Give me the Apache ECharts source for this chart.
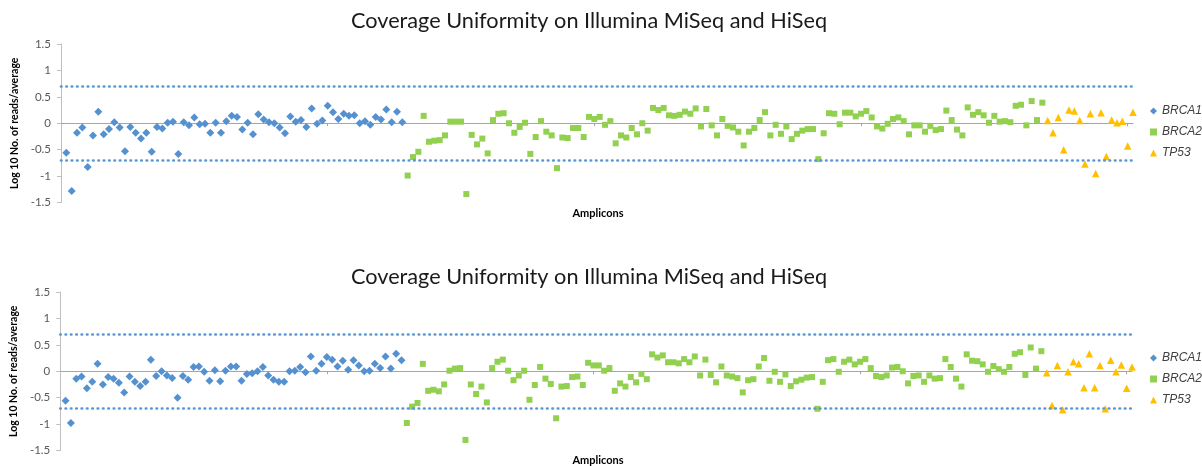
<!DOCTYPE html>
<html>
<head>
<meta charset="utf-8">
<script src="https://cdn.jsdelivr.net/npm/echarts@6/dist/echarts.min.js"></script>
<style>
html,body{margin:0;padding:0;background:#fff;}
#c{width:1202px;height:466px;}
</style>
</head>
<body>
<div id="c"></div>
<script>
// ---- data (top panel) ----
const titleText = 'Coverage Uniformity on Illumina MiSeq and HiSeq';
const seriesNames = ['BRCA1', 'BRCA2', 'TP53'];
const yTicks = [-1.5, -1, -0.5, 0, 0.5, 1, 1.5];
const thresholds = [0.7, -0.7];

const brca1Top = [-0.56,-1.28,-0.18,-0.08,-0.83,-0.23,0.22,-0.21,-0.11,0.02,
  -0.08,-0.53,-0.07,-0.18,-0.29,-0.18,-0.54,-0.07,-0.10,0.01,
  0.03,-0.58,0.02,-0.04,0.11,-0.02,-0.01,-0.18,0.01,-0.18,
  0.04,0.14,0.12,-0.12,0.01,-0.21,0.17,0.07,0.02,0.00,
  -0.08,-0.19,0.13,0.03,0.06,-0.07,0.28,-0.01,0.05,0.33,
  0.21,0.08,0.18,0.14,0.15,0.00,0.04,-0.03,0.12,0.07,
  0.26,0.02,0.22,0.02];
const brca2Top = [-0.99,-0.64,-0.54,0.14,-0.35,-0.33,-0.32,-0.23,0.03,0.03,
  0.03,-1.34,-0.22,-0.40,-0.29,-0.57,0.06,0.18,0.19,0.00,
  -0.18,-0.07,0.01,-0.58,-0.26,0.04,-0.16,-0.23,-0.85,-0.27,
  -0.28,-0.09,-0.09,-0.26,0.12,0.08,0.12,-0.03,0.04,-0.38,
  -0.23,-0.27,-0.09,-0.21,0.00,-0.14,0.29,0.25,0.29,0.15,
  0.14,0.16,0.22,0.18,0.28,-0.06,0.27,-0.04,-0.23,0.08,
  -0.05,-0.08,-0.16,-0.42,-0.16,-0.09,0.06,0.21,-0.23,-0.03,
  -0.20,-0.06,-0.30,-0.20,-0.14,-0.11,-0.11,-0.68,-0.19,0.19,
  0.18,-0.02,0.20,0.20,0.13,0.18,0.23,0.11,-0.06,-0.10,
  -0.01,0.08,0.11,0.04,-0.21,-0.04,-0.04,-0.16,-0.05,-0.13,
  -0.11,0.24,0.06,-0.12,-0.23,0.30,0.16,0.21,0.15,0.01,
  0.14,0.03,0.04,0.02,0.33,0.35,-0.04,0.42,0.06,0.39];
const tp53Top = [0.05,-0.18,0.11,-0.50,0.25,0.23,0.05,-0.77,0.18,-0.95,
  0.20,-0.63,0.06,0.01,0.04,-0.43,0.21];

// ---- data (bottom panel) ----
const brca1Bottom = [-0.56,-0.98,-0.14,-0.10,-0.32,-0.20,0.14,-0.25,-0.11,-0.14,
  -0.22,-0.40,-0.10,-0.20,-0.28,-0.20,0.22,-0.09,0.00,-0.08,
  -0.13,-0.50,-0.09,-0.16,0.08,0.09,-0.01,-0.18,0.02,-0.19,
  0.01,0.09,0.09,-0.18,-0.05,-0.04,0.00,0.08,-0.08,-0.16,
  -0.20,-0.20,0.00,0.01,0.08,-0.02,0.28,0.01,0.14,0.27,
  0.22,0.09,0.20,0.03,0.21,0.11,0.00,0.01,0.14,0.06,
  0.28,0.05,0.33,0.21];
const brca2Bottom = [-0.98,-0.67,-0.60,0.14,-0.37,-0.35,-0.38,-0.25,0.01,0.05,
  0.06,-1.30,-0.25,-0.43,-0.29,-0.59,0.06,0.18,0.22,0.01,
  -0.17,-0.08,0.01,-0.54,-0.26,0.08,-0.14,-0.24,-0.89,-0.29,
  -0.28,-0.11,-0.10,-0.26,0.16,0.11,0.11,0.01,0.06,-0.37,
  -0.23,-0.29,-0.11,-0.21,-0.05,-0.15,0.32,0.26,0.30,0.17,
  0.17,0.15,0.23,0.17,0.28,-0.08,0.22,-0.07,-0.21,0.09,
  -0.08,-0.10,-0.13,-0.40,-0.17,-0.15,0.09,0.25,-0.18,-0.01,
  -0.20,-0.06,-0.28,-0.19,-0.16,-0.12,-0.11,-0.71,-0.20,0.21,
  0.23,-0.01,0.18,0.22,0.13,0.18,0.23,0.06,-0.09,-0.11,
  -0.08,0.07,0.08,0.00,-0.23,-0.09,-0.08,-0.20,-0.08,-0.14,
  -0.13,0.23,0.08,-0.14,-0.29,0.32,0.20,0.19,0.13,-0.01,
  0.10,0.04,-0.01,0.08,0.33,0.36,-0.07,0.45,0.05,0.38];
const tp53Bottom = [-0.03,-0.65,0.11,-0.73,-0.01,0.18,0.14,-0.31,0.33,-0.31,
  0.11,-0.71,0.21,-0.01,0.12,-0.32,0.08];

// ---- build ----
const colors = { BRCA1: '#5590cf', BRCA2: '#92d050', TP53: '#ffc000' };
const symbols = { BRCA1: 'diamond', BRCA2: 'rect', TP53: 'triangle' };
const sizes = { BRCA1: 8, BRCA2: 6, TP53: 7.5 };

function toPoints(arr, start) { return arr.map((v, i) => [start + i, v]); }

function panelSeries(gridIdx, b1, b2, tp) {
  const groups = [
    ['BRCA1', toPoints(b1, 1)],
    ['BRCA2', toPoints(b2, 1 + b1.length)],
    ['TP53', toPoints(tp, 1 + b1.length + b2.length)]
  ];
  return groups.map(([name, data], k) => {
    const s = {
      name, type: 'scatter',
      xAxisIndex: gridIdx, yAxisIndex: gridIdx,
      data, symbol: symbols[name], symbolSize: sizes[name],
      itemStyle: { color: colors[name], opacity: 1 },
      silent: true, z: 3
    };
    if (k === 0) {
      s.markLine = {
        silent: true, symbol: 'none', animation: false,
        label: { show: false },
        lineStyle: { color: '#5b97d4', width: 2.7, type: [0.5, 4.85], cap: 'round', opacity: 1 },
        data: thresholds.map(t => ({ yAxis: t }))
      };
    }
    return s;
  });
}

function xAxisCfg(gridIdx) {
  return {
    gridIndex: gridIdx, type: 'value', min: 0, max: 201,
    axisLine: { show: true, onZero: true, lineStyle: { color: '#a6a6a6', width: 1 } },
    axisTick: { show: true, customValues: [50, 100, 150, 200], length: 3, inside: false, lineStyle: { color: '#a6a6a6' } },
    axisLabel: { show: false },
    splitLine: { show: false }
  };
}
function yAxisCfg(gridIdx) {
  return {
    gridIndex: gridIdx, type: 'value', min: yTicks[0], max: yTicks[yTicks.length - 1], interval: 0.5,
    name: 'Log 10 No. of reads/average', nameLocation: 'middle', nameGap: 38,
    nameTextStyle: { fontFamily: 'Lato', fontWeight: 'bold', fontSize: 10.5, color: '#000' },
    axisLine: { show: true, onZero: false, lineStyle: { color: '#bfbfbf', width: 1 } },
    axisTick: { show: true, length: 4, inside: false, lineStyle: { color: '#bfbfbf' } },
    axisLabel: { show: true, margin: 10, fontFamily: 'Lato', fontSize: 11.5, color: '#595959' },
    splitLine: { show: false }
  };
}
function legendCfg(top) {
  return {
    orient: 'vertical', left: 1150, top: top, padding: 0,
    itemWidth: 7, itemHeight: 7, itemGap: 9,
    data: seriesNames, selectedMode: false,
    textStyle: { fontFamily: 'Liberation Sans', fontStyle: 'italic', fontSize: 12, color: '#404040', overflow: 'none' },
    itemStyle: { opacity: 1 }
  };
}

const chart = echarts.init(document.getElementById('c'), null, { renderer: 'canvas' });
chart.setOption({
  animation: false,
  backgroundColor: '#ffffff',
  grid: [
    { left: 61, top: 44, width: 1072, height: 158.5 },
    { left: 60, top: 292, width: 1072, height: 158.5 }
  ],
  xAxis: [xAxisCfg(0), xAxisCfg(1)],
  yAxis: [yAxisCfg(0), yAxisCfg(1)],
  legend: [legendCfg(105), legendCfg(352)],
  graphic: [
    { type: 'text', x: 589, y: 21, style: { text: titleText, align: 'center', verticalAlign: 'middle', font: '21.7px Lato', fill: '#1a1a1a' } },
    { type: 'text', x: 589, y: 277, style: { text: titleText, align: 'center', verticalAlign: 'middle', font: '21.7px Lato', fill: '#1a1a1a' } },
    { type: 'text', x: 598, y: 213, style: { text: 'Amplicons', align: 'center', verticalAlign: 'middle', font: 'bold 11px Lato', fill: '#000' } },
    { type: 'text', x: 598, y: 460, style: { text: 'Amplicons', align: 'center', verticalAlign: 'middle', font: 'bold 11px Lato', fill: '#000' } }
  ],
  series: [].concat(
    panelSeries(0, brca1Top, brca2Top, tp53Top),
    panelSeries(1, brca1Bottom, brca2Bottom, tp53Bottom)
  )
});
</script>
</body>
</html>
